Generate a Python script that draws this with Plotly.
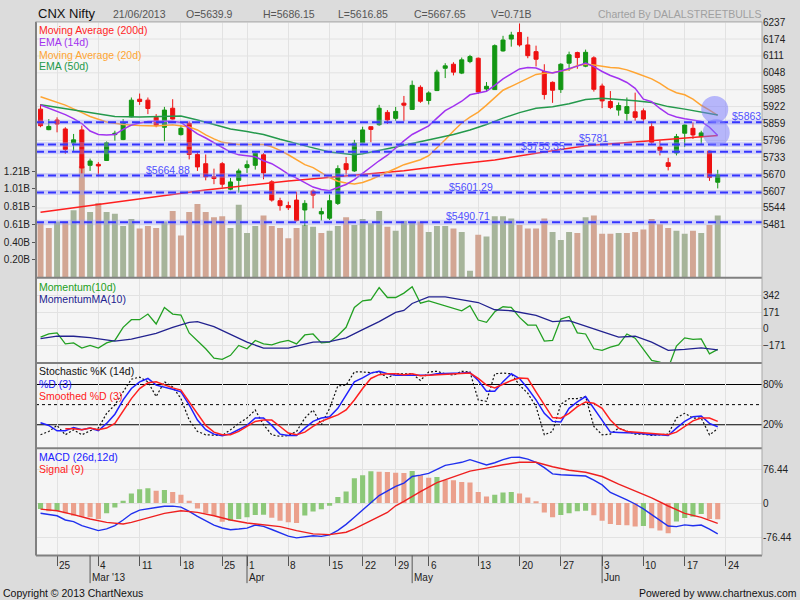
import datetime as dt
import plotly.graph_objects as go

# ---------------- data (CNX Nifty, daily) ----------------
dates = [
    "2013-02-21", "2013-02-22", "2013-02-25", "2013-02-26", "2013-02-27", "2013-02-28", "2013-03-01",
    "2013-03-04", "2013-03-05", "2013-03-06", "2013-03-07", "2013-03-08",
    "2013-03-11", "2013-03-12", "2013-03-13", "2013-03-14", "2013-03-15",
    "2013-03-18", "2013-03-19", "2013-03-20", "2013-03-21", "2013-03-22",
    "2013-03-25", "2013-03-26", "2013-03-28",
    "2013-04-01", "2013-04-02", "2013-04-03", "2013-04-04", "2013-04-05",
    "2013-04-08", "2013-04-09", "2013-04-10", "2013-04-11", "2013-04-12",
    "2013-04-15", "2013-04-16", "2013-04-17", "2013-04-18",
    "2013-04-22", "2013-04-23", "2013-04-25", "2013-04-26",
    "2013-04-29", "2013-04-30", "2013-05-02", "2013-05-03",
    "2013-05-06", "2013-05-07", "2013-05-08", "2013-05-09", "2013-05-10", "2013-05-11",
    "2013-05-13", "2013-05-14", "2013-05-15", "2013-05-16", "2013-05-17",
    "2013-05-20", "2013-05-21", "2013-05-22", "2013-05-23", "2013-05-24",
    "2013-05-27", "2013-05-28", "2013-05-29", "2013-05-30", "2013-05-31",
    "2013-06-03", "2013-06-04", "2013-06-05", "2013-06-06", "2013-06-07",
    "2013-06-10", "2013-06-11", "2013-06-12", "2013-06-13", "2013-06-14",
    "2013-06-17", "2013-06-18", "2013-06-19", "2013-06-20", "2013-06-21",
]
future_dates = ["2013-06-24", "2013-06-25", "2013-06-26", "2013-06-27", "2013-06-28"]

opens = [
    5912.6, 5836, 5871.9, 5838.6, 5786, 5835, 5703,
    5706.6, 5721, 5817.5, 5799, 5884,
    5949.6, 5946, 5882, 5845, 5916,
    5817.5, 5859.7, 5743.6, 5709, 5660,
    5709, 5614, 5647,
    5694.4, 5703, 5742.4, 5641.5, 5571,
    5552.7, 5573.4, 5536.4, 5606.7, 5521.6,
    5505.7, 5561, 5709, 5682,
    5787, 5847, 5854.5, 5900.4,
    5878.2, 5934.8, 5911.5, 5994,
    5944.8, 5981.8, 6065, 6080, 6046.9, 6090,
    6102.4, 5987.7, 5985.5, 6129.7, 6174,
    6198.5, 6152, 6127, 6053, 6012.5,
    5985.5, 6083.9, 6123.4, 6072.8, 6103.8,
    5998.8, 5941, 5909, 5896.7, 5902.6,
    5906.3, 5847, 5771, 5712.8, 5748.7,
    5822.7, 5841, 5810, 5756, 5639.9,
]
highs = [
    5931, 5875.6, 5882, 5845, 5820, 5851, 5728,
    5715, 5792, 5832, 5875.6, 5956,
    5970.7, 5956, 5894, 5921, 5949.6,
    5853, 5867, 5752.5, 5743.6, 5690.6,
    5715, 5656, 5690.6,
    5721, 5756, 5748.7, 5647.4, 5582,
    5567.5, 5604.5, 5573, 5613, 5545,
    5594.5, 5703, 5734, 5798,
    5847, 5847, 5928.5, 5909,
    5921, 5961.8, 6019, 6001.4,
    5979, 6059.4, 6083.9, 6087.6, 6105, 6115,
    6105, 6013.6, 6154, 6186, 6201,
    6232, 6182.6, 6149.3, 6080, 6016,
    6083.9, 6127, 6127, 6134.5, 6109.7,
    6007.7, 5980, 5937.4, 5955.9, 5974,
    5915, 5867, 5795.3, 5731, 5820,
    5855, 5863.4, 5832, 5758, 5686.15,
]
lows = [
    5845, 5834, 5826, 5746, 5756, 5672, 5682,
    5662, 5719, 5795, 5797, 5882,
    5928.5, 5894, 5845, 5793, 5874,
    5814, 5725, 5682, 5647, 5632.6,
    5620, 5610, 5600.8,
    5674.7, 5687, 5651, 5567.5, 5534,
    5536.4, 5493.5, 5477, 5542.7, 5497,
    5499, 5555, 5668, 5678.5,
    5785, 5789, 5850.8, 5857,
    5869, 5867, 5910, 5936,
    5930, 5980, 6028.4, 6038.4, 6043.2, 6083.9,
    5969, 5979, 5984, 6127, 6145.6,
    6145.6, 6102.4, 6071.7, 5948.5, 5936,
    5973, 6055.7, 6063, 6069, 5978,
    5916.3, 5912.6, 5888, 5869, 5869,
    5859.7, 5783, 5740, 5684, 5740,
    5771, 5801.6, 5780, 5645, 5616.85,
]
closes = [
    5850.8, 5848, 5857, 5762, 5798, 5693, 5719,
    5700.6, 5787, 5822.7, 5863.4, 5946,
    5941, 5915, 5851, 5909, 5875.6,
    5841, 5743.6, 5697, 5660, 5653.7,
    5632.6, 5641, 5682,
    5705.4, 5748.7, 5674.7, 5573.4, 5552.7,
    5545, 5497, 5561, 5592, 5530.5,
    5571, 5690.6, 5687, 5785.7,
    5835, 5837, 5916, 5872,
    5904, 5927.4, 6001.4, 5942,
    5973, 6050.6, 6074, 6050.6, 6096.4, 6108.6,
    5976.6, 5997.7, 6149.3, 6170.4, 6189,
    6152, 6112, 6098.7, 5967, 5983,
    6080, 6115, 6105, 6124.5, 5986.6,
    5943.3, 5919, 5926, 5922, 5881.9,
    5875.6, 5789, 5758.4, 5699, 5810,
    5853.4, 5816.4, 5824, 5657.4, 5667.65,
]
volume_b = [  # billions of shares
    0.62, 0.565, 0.64, 0.64, 0.77, 1.27, 0.75,
    0.85, 0.75, 0.73, 0.59, 0.67,
    0.56, 0.59, 0.565, 0.64, 0.76,
    0.48, 0.75, 0.84, 0.75, 0.69,
    0.70, 0.565, 0.83,
    0.51, 0.59, 0.71, 0.59, 0.565,
    0.45, 0.565, 0.60, 0.58, 0.51,
    0.535, 0.59, 0.69, 0.60,
    0.67, 0.62, 0.76, 0.58,
    0.535, 0.645, 0.625, 0.64,
    0.52, 0.59, 0.59, 0.56, 0.52, 0.08,
    0.49, 0.47, 0.70, 0.70, 0.675,
    0.60, 0.56, 0.56, 0.675, 0.52,
    0.43, 0.52, 0.51, 0.69, 0.71,
    0.50, 0.50, 0.51, 0.51, 0.52,
    0.55, 0.67, 0.61, 0.565, 0.535,
    0.50, 0.535, 0.51, 0.60, 0.71,
]
ema14 = [
    5928, 5916, 5905, 5892, 5877, 5859, 5831,
    5818, 5816, 5817.5, 5837, 5853.4,
    5861, 5866, 5867, 5867, 5867,
    5863, 5842, 5820, 5805, 5787,
    5768, 5752, 5742,
    5739, 5735, 5720, 5709, 5690.6,
    5670, 5655, 5637, 5622, 5613,
    5608, 5620, 5631.5, 5650,
    5674, 5698, 5720, 5740.6,
    5768, 5794, 5818, 5833,
    5850, 5879, 5907, 5924, 5942, 5966,
    5973.6, 5979, 6001, 6025.4, 6044,
    6062.4, 6068, 6066, 6054, 6047,
    6055, 6063, 6073, 6084, 6071,
    6053, 6038, 6027, 6012, 5990,
    5950, 5940, 5915, 5894, 5883,
    5877, 5871, 5867, 5845, 5814,
]
ma20 = [
    5958.5, None, None, 5927.4, None, 5899.6, 5885,
    None, 5864.5, None, 5855, None,
    5851.6, None, 5849.7, None, 5854.5,
    None, 5846, 5835, 5816.4, 5801.6,
    5788.7, None, 5781,
    None, 5779.4, 5781, 5772, 5759,
    5742.4, 5724, 5705.4, 5694.4, 5676,
    5657.4, 5643.7, 5637, 5633.3,
    5639, 5650, 5663, 5676,
    5691, 5705.4, 5714, 5724,
    5738.7, 5768, 5798, 5831, 5861, 5883,
    5901.5, 5927.4, 5957, 5983, 5997.7,
    6012.5, 6027, 6042, 6046, 6048.4,
    6055, 6060.6, 6075.4, 6080, 6077,
    6072, 6068, 6066, 6059, 6048,
    6036.5, 6025.4, 6008.8, 5988.4, 5974,
    5966, 5949.6, 5927, 5909, 5889,
]
ema50 = [
    5929, None, None, 5914.5, None, None, 5899.6,
    None, None, 5885, None, None,
    5883, None, None, 5886.7, None,
    5886.7, None, 5872, None, 5855,
    None, 5838.6, None,
    5829, None, 5818, None, 5800,
    None, 5783, None, 5768, None,
    5752.4, None, 5744, 5742.4,
    5746, 5751.7, None, 5764.6,
    None, 5777.6, None, 5790.5,
    None, 5803.5, None, 5818, None, 5835,
    None, 5855, None, 5879, None,
    5899.6, None, 5916, None, 5921.8,
    None, 5933, None, 5948.5, None,
    5953, None, 5949.6, None, 5944,
    None, 5937, None, 5922, None,
    5912.6, None, 5903, None, 5891,
]
ma200 = [
    5527.9, None, None, None, None, None, None,
    None, None, None, 5568.6, None,
    None, None, None, None, None,
    None, None, None, 5611, None,
    None, None, None,
    None, None, None, None, None,
    5644.4, None, None, None, None,
    None, None, None, None,
    None, 5672, None, None,
    None, 5683, None, None,
    None, None, None, 5706, None, None,
    None, None, 5723, None, None,
    None, None, 5747.6, None, None,
    None, None, None, 5775.7, None,
    None, None, 5785, None, None,
    None, None, 5797, None, None,
    None, None, None, None, 5814,
]
momentum = [
    -84, -51, -40, -152, -142, -195, -168,
    -195, -142, -117, 17, 95,
    95, 152, 51, 220, 152,
    142, -40, -117, -202, -297,
    -310, -269, -168,
    -202, -117, -152, -162, -135,
    -117, -152, -61, -51, -142,
    -135, -67, 17, 220,
    287, 298, 422, 321,
    321, 366, 432, 263,
    287, 260, 235, 209, 186, 237,
    91, 68, 176, 227, 220,
    118, 40, 40, -124, -117,
    101, 128, -40, -51, -202,
    -219, -185, -162, -51, -94,
    -202, -320, -337, -400, -175,
    -91, -107, -101, -253, -208,
]
momentum_ma = [
    -99, None, -74, None, -74, None, -89,
    None, None, -124, None, -104,
    None, None, -44, None, 17,
    None, 68, 75, None, 24,
    None, -57, None,
    -135, None, -195, None, None,
    -195, -175, None, -135, None,
    -128, None, -91, None,
    -6, None, 75, None,
    169, 189, 260, None,
    328, None, 328, None, 298, None,
    270, None, 196, None, 186,
    None, None, 139, None, 75,
    None, 85, None, 32, None,
    -26, None, -84, None, -74,
    None, -135, None, -219, None,
    -208, None, -192, None, -213,
]
stoch_k = [
    5, 10, 19, 5, 12.5, 5, 11,
    15, 37, 49.5, 69, 88,
    91, 84, 62, 84, 76.5,
    59, 27, 10, 5, 5,
    4, 12.5, 22,
    30, 42, 20, 5, 2.7,
    4, 10, 30, 42, 20,
    44.5, 78, 79, 98.7,
    98.7, 97.7, 98.7, 90,
    96, 96, 96, 86,
    98.7, 99.7, 96, 94, 99.7, 98.7,
    57, 55, 96, 97, 96,
    79, 67, 47, 5, 10,
    50.5, 59, 59, 62, 17.5,
    5, 6, 15, 11, 6,
    6, 4, 5, 6, 30,
    37, 30, 30, 5, 14,
]
stoch_d = [
    23, 19, 11, 11, 16, 12.5, 15,
    11, 22, 35.7, 57, 74,
    84, 89, 79, 76.5, 73,
    69, 49.5, 27, 12.5, 6,
    3.6, 6.6, 12.5,
    19, 30, 30, 19, 6,
    4, 4, 15, 25, 30,
    32, 44.5, 64, 84,
    90, 97, 99.7, 96,
    94, 94, 94, 93,
    94, 96, 96, 96, 97, 97.7,
    86, 70, 70, 84, 96,
    89, 74, 57, 37, 25,
    24, 44.5, 54, 62, 44.5,
    27, 9, 8.5, 8.5, 7.6,
    6.6, 5, 5, 4, 15,
    25, 32, 33, 22, 17,
]
stoch_sd = [
    None, None, None, 14, 14, 12.5, 15,
    12.5, 15, 22, 40.5, 59,
    74, 82.5, 84, 79, 75,
    71.6, 54, 34.7, 19, 9,
    5, 5, 10,
    17.4, 25, 27, 27, 17.4,
    7.6, 5, 9, 17.4, 25,
    30, 34.7, 42, 57,
    74, 89, 94.7, 96,
    96, 94.7, 96, 93,
    94, 94.7, 96, 96, 97, 97,
    89, 79, 75, 81, 86,
    89.8, 89, 69, 49.5, 30.7,
    29.7, 37, 47, 54, 52,
    44.5, 27, 15, 10, 9,
    8.5, 7.6, 6, 5, 9,
    17.4, 25.8, 30, 30, 25,
]
macd = [
    -23, -25, -28.5, -38, -41.8, -50.7, -56,
    -62, -58, -50.7, -38, -24,
    -15.7, -13.5, -10, -7, -6.8,
    -9, -18.5, -30, -40, -49.5,
    -56, -60, -58.5,
    -56.5, -49.5, -52.5, -59.5, -67,
    -74.5, -78.3, -76, -73.5, -75,
    -71.5, -61.5, -48, -32,
    -14.5, 1, 17, 28,
    37.5, 45, 60, 63,
    67, 76, 85, 88.5, 92, 98,
    92, 86, 91, 98, 103,
    103.4, 99, 92, 80, 66,
    64, 62.7, 62, 61, 52,
    41, 24, 16, 7.5, -2,
    -13, -26, -39, -51.5, -53,
    -49, -51, -49.5, -58.5, -69.4,
]
signal = [
    -13.5, None, -17.2, None, -26, None, -35.7,
    None, -43.3, None, -47, -43.5,
    None, -33.5, None, -23, None,
    -17.2, None, -21, None, -28.5,
    None, -38, None,
    -44.8, None, -48.5, None, -53,
    None, -62, None, -69.4, None,
    -71, None, -65.6, -58,
    None, -39.5, None, -21,
    -6, 4, None, 26,
    None, 46, None, 59, None, 72,
    None, 79, None, 86.5, None,
    92, None, 92, None, 82,
    None, 74, None, 69.5, None,
    60, None, 43, None, 28,
    None, 12, None, -6.5, -15,
    -23, None, -32, None, -45.5,
]
macd_hist = [
    -13.4, -18.6, -17, -23, -28.3, -30.5, -32,
    -35.8, -23, -9.7, 5.2, 21.6,
    31.3, 33.5, 27.6, 29.8, 25.3,
    18.6, 5.2, -12, -23, -28.3,
    -42, -40, -36,
    -32, -27, -26, -33, -40,
    -43, -45, -28, -19, -14,
    -6, 14, 26, 56,
    63, 72, 70.5, 70,
    68.6, 68, 72.3, 62.6,
    57.4, 58.9, 52, 51.4, 47.7, 46.2,
    25.3, 14.9, 18.6, 23.8, 25.3,
    21.6, 12.7, 3, -20.9, -32,
    -26.8, -23.1, -18.6, -17.1, -27.6,
    -39.5, -46.9, -49.2, -49.9, -52.5,
    -51.8, -56.6, -61.8, -67.8, -41.7,
    -33.5, -30.5, -24.6, -35.8, -36.5,
]

# support / resistance levels drawn on the price panel
levels = [5863.5, 5781, 5753.35, 5664.88, 5601.29, 5490.71]
level_text = ["$5863.", "$5781", "$5753.35", "$5664.88", "$5601.29", "$5490.71"]

price_ticks = [5481, 5544, 5607, 5670, 5733, 5796, 5859, 5922, 5985, 6048, 6111, 6174, 6237]
vol_tick_vals = [0.202, 0.404, 0.607, 0.809, 1.011, 1.213]
vol_tick_text = ["0.20B", "0.40B", "0.61B", "0.81B", "1.01B", "1.21B"]
mom_ticks = [-171, 0, 171, 342]
stoch_ticks = [20, 80]
stoch_tick_text = ["20%", "80%"]
macd_ticks = [-76.44, 0, 76.44]
macd_tick_text = ["-76.44", "0", "76.44"]

n = len(dates)
for name, arr in [("opens", opens), ("highs", highs), ("lows", lows), ("closes", closes),
                  ("volume_b", volume_b), ("ema14", ema14), ("ma20", ma20), ("ema50", ema50),
                  ("ma200", ma200), ("momentum", momentum), ("momentum_ma", momentum_ma),
                  ("stoch_k", stoch_k), ("stoch_d", stoch_d), ("stoch_sd", stoch_sd),
                  ("macd", macd), ("signal", signal), ("macd_hist", macd_hist)]:
    assert len(arr) == n, (name, len(arr))

# ---------------- geometry (pixels of the 800x600 picture) ----------------
W, H = 800, 600
FONT = "Liberation Sans, Arial, sans-serif"
PL, PR = 36, 762
P_TOP, P_BOT, M_BOT, S_BOT, D_BOT = 17, 275, 361, 447, 555
X_RANGE = [-0.55, 87.36]


def fx(p):
    return p / W


def fy(p):
    return 1 - p / H


xs = list(range(n))
UP, DOWN = "#139613", "#ee1111"
VOL_UP, VOL_DOWN = "#a6b49a", "#d2a694"
HIST_UP, HIST_DOWN = "#8cc878", "#eba08c"
GRID = "#e2e2e2"

vol_colors = []
for i in range(n):
    ref = closes[i - 1] if i else opens[i]
    vol_colors.append(VOL_UP if closes[i] >= ref else VOL_DOWN)
hist_colors = [HIST_UP if i == 0 or macd_hist[i] >= macd_hist[i - 1] else HIST_DOWN for i in range(n)]

fig = go.Figure()

# price panel: volume (base axis, left) and candles + averages (overlay axis, right)
fig.add_trace(go.Bar(x=xs, y=volume_b, marker=dict(color=vol_colors, line=dict(width=0)),
                     width=0.72, xaxis="x", yaxis="y", hoverinfo="skip"))
fig.add_trace(go.Candlestick(x=xs, open=opens, high=highs, low=lows, close=closes,
                             xaxis="x", yaxis="y5", whiskerwidth=0,
                             increasing=dict(line=dict(color=UP, width=1), fillcolor=UP),
                             decreasing=dict(line=dict(color=DOWN, width=1), fillcolor=DOWN),
                             hoverinfo="skip"))
for vals, color in [(ma200, "#ff1f1f"), (ma20, "#ffa533"), (ema50, "#24994c"), (ema14, "#a133f0")]:
    fig.add_trace(go.Scatter(x=xs, y=vals, mode="lines", connectgaps=True,
                             line=dict(color=color, width=1.5), xaxis="x", yaxis="y5",
                             hoverinfo="skip"))

# momentum panel
fig.add_trace(go.Scatter(x=xs, y=momentum, mode="lines", line=dict(color="#22a022", width=1.3),
                         xaxis="x2", yaxis="y2", hoverinfo="skip"))
fig.add_trace(go.Scatter(x=xs, y=momentum_ma, mode="lines", connectgaps=True,
                         line=dict(color="#22228f", width=1.3), xaxis="x2", yaxis="y2",
                         hoverinfo="skip"))

# stochastic panel
fig.add_trace(go.Scatter(x=xs, y=stoch_k, mode="lines", line=dict(color="#111111", width=1.2, dash="2px,2px"),
                         xaxis="x3", yaxis="y3", hoverinfo="skip"))
fig.add_trace(go.Scatter(x=xs, y=stoch_d, mode="lines", line=dict(color="#2020ff", width=1.5),
                         xaxis="x3", yaxis="y3", hoverinfo="skip"))
fig.add_trace(go.Scatter(x=xs, y=stoch_sd, mode="lines", line=dict(color="#ff2020", width=1.5),
                         xaxis="x3", yaxis="y3", hoverinfo="skip"))

# MACD panel
fig.add_trace(go.Bar(x=xs, y=macd_hist, marker=dict(color=hist_colors, line=dict(width=0)),
                     width=0.62, xaxis="x4", yaxis="y4", hoverinfo="skip"))
fig.add_trace(go.Scatter(x=xs, y=macd, mode="lines", line=dict(color="#2030ee", width=1.4),
                         xaxis="x4", yaxis="y4", hoverinfo="skip"))
fig.add_trace(go.Scatter(x=xs, y=signal, mode="lines", connectgaps=True,
                         line=dict(color="#ee2020", width=1.4), xaxis="x4", yaxis="y4",
                         hoverinfo="skip"))

# ---------------- x ticks from the trading calendar ----------------
axis_dates = [dt.date.fromisoformat(d) for d in dates + future_dates]
week_ticks, month_ticks = [], []
for i in range(1, len(axis_dates)):
    if axis_dates[i].isocalendar()[1] != axis_dates[i - 1].isocalendar()[1]:
        week_ticks.append(i)
    if axis_dates[i].month != axis_dates[i - 1].month:
        month_ticks.append(i)

tick_font = dict(family=FONT, size=10, color="#222222")
xdom = [fx(PL), fx(PR)]


def xaxis(anchor, last=False):
    ax = dict(domain=xdom, range=X_RANGE, anchor=anchor, tickmode="array", tickvals=week_ticks,
              showticklabels=False, showgrid=True, gridcolor=GRID, gridwidth=1, zeroline=False,
              showline=False, fixedrange=True)
    if last:
        ax.update(ticks="outside", ticklen=10, tickcolor="#555555", tickwidth=1)
    else:
        ax.update(ticks="")
    return ax


fig.update_layout(
    width=W, height=H, margin=dict(l=0, r=0, t=0, b=0),
    paper_bgcolor="#dcdcdc", plot_bgcolor="#f5f5f5",
    showlegend=False, hovermode=False,
    font=dict(family=FONT, size=10, color="#222222"),
    xaxis=dict(xaxis("y"), rangeslider=dict(visible=False)),
    xaxis2=dict(xaxis("y2"), matches="x"),
    xaxis3=dict(xaxis("y3"), matches="x"),
    xaxis4=dict(xaxis("y4", last=True), matches="x"),
    yaxis=dict(domain=[fy(P_BOT), fy(P_TOP)], range=[0, 2.915], side="left", anchor="x",
               tickmode="array", tickvals=vol_tick_vals, ticktext=vol_tick_text,
               ticks="outside", ticklen=3, tickcolor="#555555", showgrid=False, zeroline=False,
               tickfont=tick_font, fixedrange=True),
    yaxis5=dict(overlaying="y", side="right", anchor="x", range=[5283.8, 6238.1],
                tickmode="array", tickvals=price_ticks, ticks="", showgrid=False, zeroline=False,
                tickfont=tick_font, fixedrange=True),
    yaxis2=dict(domain=[fy(M_BOT), fy(P_BOT)], range=[-347, 523], side="right", anchor="x2",
                tickmode="array", tickvals=mom_ticks, ticks="", showgrid=True, gridcolor=GRID,
                zeroline=False, tickfont=tick_font, fixedrange=True),
    yaxis3=dict(domain=[fy(S_BOT), fy(M_BOT)], range=[-15.1, 112.1], side="right", anchor="x3",
                tickmode="array", tickvals=stoch_ticks, ticktext=stoch_tick_text, ticks="",
                showgrid=False, zeroline=False, tickfont=tick_font, fixedrange=True),
    yaxis4=dict(domain=[fy(D_BOT), fy(S_BOT)], range=[-117.8, 123.6], side="right", anchor="x4",
                tickmode="array", tickvals=macd_ticks, ticktext=macd_tick_text, ticks="",
                showgrid=True, gridcolor=GRID, zeroline=False, tickfont=tick_font, fixedrange=True),
    bargap=0.3,
)

# ---------------- shapes ----------------
# price gridlines (below the candles)
for p in price_ticks:
    fig.add_shape(type="line", xref="x", yref="y5", x0=X_RANGE[0], x1=X_RANGE[1], y0=p, y1=p,
                  line=dict(color=GRID, width=1), layer="below")
# stochastic guide lines
for lvl, dash in [(80, "solid"), (20, "solid"), (50, "3px,3px")]:
    fig.add_shape(type="line", xref="x3", yref="y3", x0=X_RANGE[0], x1=X_RANGE[1], y0=lvl, y1=lvl,
                  line=dict(color="#000000", width=1.2 if dash == "solid" else 1, dash=dash),
                  layer="below")
# dashed support / resistance levels
for lv in levels:
    fig.add_shape(type="line", xref="x", yref="y5", x0=X_RANGE[0], x1=X_RANGE[1], y0=lv, y1=lv,
                  line=dict(color="rgba(150,150,255,0.35)", width=5), layer="above")
    fig.add_shape(type="line", xref="x", yref="y5", x0=X_RANGE[0], x1=X_RANGE[1], y0=lv, y1=lv,
                  line=dict(color="#3434ff", width=2, dash="8px,4px"), layer="above")
# highlight circles at the crossing of the averages
for val, box in [(ema50[-1], (-16.5, 10.5, -8, 19)), (ema14[-1], (-15, 12, -10.8, 16.2))]:
    fig.add_shape(type="circle", xref="x", yref="y5", xsizemode="pixel", ysizemode="pixel",
                  xanchor=n - 1, yanchor=val, x0=box[0], x1=box[1], y0=box[2], y1=box[3],
                  fillcolor="rgba(120,120,255,0.5)", line=dict(width=0), layer="above")
# panel frame
frame = "#808080"
for y in (P_BOT, M_BOT, S_BOT, D_BOT):
    fig.add_shape(type="line", xref="paper", yref="paper", x0=fx(PL), x1=fx(PR), y0=fy(y), y1=fy(y),
                  line=dict(color=frame, width=2))
fig.add_shape(type="line", xref="paper", yref="paper", x0=fx(PL), x1=fx(PL), y0=fy(D_BOT), y1=fy(P_TOP),
              line=dict(color=frame, width=2))
fig.add_shape(type="line", xref="paper", yref="paper", x0=fx(PL), x1=fx(PR), y0=fy(P_TOP), y1=fy(P_TOP),
              line=dict(color="#a8a8a8", width=1))
fig.add_shape(type="line", xref="paper", yref="paper", x0=fx(PR), x1=fx(PR), y0=fy(D_BOT), y1=fy(P_TOP),
              line=dict(color="#a8a8a8", width=1))
for m in month_ticks:
    fig.add_shape(type="line", xref="x4", yref="paper", x0=m, x1=m, y0=fy(D_BOT), y1=fy(583),
                  line=dict(color="#555555", width=1))

# ---------------- text ----------------
ann = []


def text(x, y, s, color="#222222", size=10.5, anchor="left"):
    ann.append(dict(xref="paper", yref="paper", x=fx(x), y=fy(y), text=s, showarrow=False,
                    xanchor=anchor, yanchor="middle", font=dict(family=FONT, size=size, color=color)))


last = dt.date.fromisoformat(dates[-1])
text(36, 9, "CNX Nifty", "#111111", 13)
text(111, 9, last.strftime("%d/%m/%Y"), "#555555")
text(184, 9, f"O={opens[-1]:g}", "#555555")
text(261, 9, f"H={highs[-1]:g}", "#555555")
text(336, 9, f"L={lows[-1]:g}", "#555555")
text(412, 9, f"C={closes[-1]:g}", "#555555")
text(489, 9, f"V={volume_b[-1]:.2f}B", "#555555")
text(763, 9, "Charted By DALALSTREETBULLS", "#a0a0a0", anchor="right")

text(37, 25, "Moving Average (200d)", "#ff1f1f")
text(37, 37.5, "EMA (14d)", "#a133f0")
text(37, 50, "Moving Average (20d)", "#ffa533")
text(37, 62, "EMA (50d)", "#24994c")
text(37, 284, "Momentum(10d)", "#22a022")
text(37, 296, "MomentumMA(10)", "#22228f")
text(37, 369.5, "Stochastic %K (14d)", "#111111")
text(37, 382, "%D (3)", "#2020ff")
text(37, 394, "Smoothed %D (3)", "#ff2020")
text(37, 456, "MACD (26d,12d)", "#2020ff")
text(37, 468, "Signal (9)", "#ff2020")

text(1, 593, "Copyright \u00a9 2013 ChartNexus", "#111111")
text(799, 593, "Powered by www.chartnexus.com", "#111111", anchor="right")

# level labels sit just above their dashed lines
label_pos = [83.5, 65.0, 57.9, 12.5, 49.2, 48.9]
for lv, s, xp in zip(levels, level_text, label_pos):
    ann.append(dict(xref="x", yref="y5", x=xp, y=lv, text=s, showarrow=False, xanchor="left",
                    yanchor="middle", yshift=6, font=dict(family=FONT, size=10.5, color="#5050ff")))

# x tick labels to the right of each tick
for i in week_ticks:
    ann.append(dict(xref="x4", yref="paper", x=i, y=fy(565), text=str(axis_dates[i].day),
                    showarrow=False, xanchor="left", yanchor="middle", xshift=0,
                    font=dict(family=FONT, size=10, color="#222222")))
for k, i in enumerate(month_ticks):
    lab = axis_dates[i].strftime("%b") + (axis_dates[i].strftime(" '%y") if k == 0 else "")
    ann.append(dict(xref="x4", yref="paper", x=i, y=fy(577), text=lab, showarrow=False,
                    xanchor="left", yanchor="middle", xshift=0,
                    font=dict(family=FONT, size=10, color="#222222")))

fig.update_layout(annotations=ann)
# the page body must not add its default margin around the 800x600 figure
fig.write_html("out.html", config={"displayModeBar": False},
               post_script="document.body.style.margin='0';"
                           "document.body.style.overflow='hidden';")
